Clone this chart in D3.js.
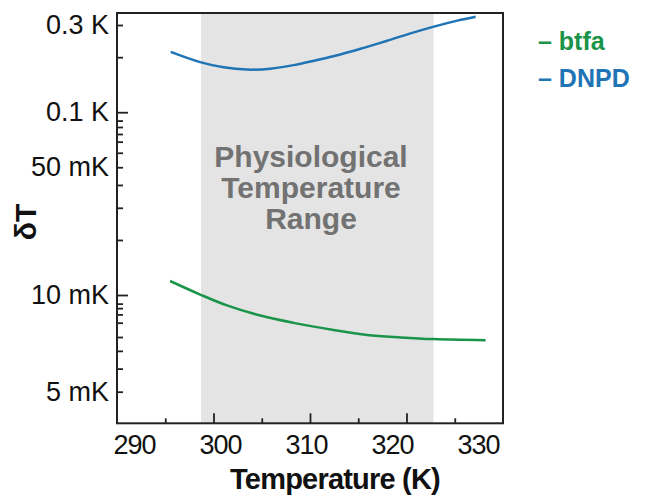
<!DOCTYPE html>
<html><head><meta charset="utf-8">
<script src="https://cdn.jsdelivr.net/npm/d3@7"></script>
<style>body{margin:0;background:#fff}svg{display:block}text{font-family:"Liberation Sans",Arial,sans-serif}</style>
</head><body><svg id="c" width="645" height="497"></svg>
<script>
// ---- data ----
const dnpdT = [295.57, 298.62, 301.04, 303.46, 305.88, 308.30, 310.73, 313.15, 315.57, 318.0, 320.42, 322.84, 325.27, 327.17];
const dnpdV = [0.214, 0.188, 0.176, 0.171, 0.173, 0.181, 0.193, 0.207, 0.225, 0.246, 0.270, 0.294, 0.317, 0.333];
const btfaT = [295.5, 298.62, 301.39, 304.85, 308.30, 312.45, 315.92, 319.38, 322.84, 328.2];
const btfaV = [0.01193, 0.01006, 0.00928, 0.00863, 0.00819, 0.00778, 0.00751, 0.00738, 0.00729, 0.00723];
const physRange = [298.7, 322.8];
const xMajor = [290, 300, 310, 320, 330];
const xMinor = [295, 305, 315, 325];
const yDecade = [0.1, 0.01];
const yDecadeLabels = ["0.1 K", "10 mK"];
const yOther = [0.3, 0.05, 0.005];
const yOtherLabels = ["0.3 K", "50 mK", "5 mK"];
const yMinor = [0.2, 0.09, 0.083, 0.076, 0.069, 0.06, 0.04, 0.03, 0.02, 0.0094, 0.0091, 0.0087, 0.0082, 0.0074, 0.0067, 0.0059];
const seriesNames = ["btfa", "DNPD"];
const colors = {btfa: "#1a9448", DNPD: "#1f74b6"};
const bandText = ["Physiological", "Temperature", "Range"];

const svg = d3.select("#c");
const L = 117, R = 503, T = 13, B = 423.3;
const x = d3.scaleLinear().domain([290, 330]).range([L, R]);
const xLab = d3.scaleLinear().domain([290, 330]).range([134, 478]);
const y = d3.scaleLog().domain([0.3488, 0.3, 0.01, 0.005, 0.00399]).range([T, 25, 295, 391.7, B]);

// band
svg.append("rect").attr("x", x(physRange[0])).attr("y", T)
  .attr("width", x(physRange[1]) - x(physRange[0])).attr("height", B - T).attr("fill", "#e4e4e4");

const bt = svg.append("text").attr("x", 311).attr("text-anchor", "middle")
  .attr("font-weight", "bold").attr("font-size", 30).attr("fill", "#727272");
bandText.forEach((t, i) => bt.append("tspan").attr("x", 311).attr("y", 167 + i * 31).text(t));

// lines
const line = d3.line().x(d => x(d[0])).y(d => y(d[1])).curve(d3.curveCatmullRom);
svg.append("path").datum(btfaT.map((t, i) => [t, btfaV[i]])).attr("d", line)
  .attr("fill", "none").attr("stroke", colors.btfa).attr("stroke-width", 2.5);
svg.append("path").datum(dnpdT.map((t, i) => [t, dnpdV[i]])).attr("d", line)
  .attr("fill", "none").attr("stroke", colors.DNPD).attr("stroke-width", 2.5);

// axes
function styleAx(g) {
  g.select(".domain").remove();
  g.selectAll("line").attr("stroke", "#222").attr("stroke-width", 1.8);
  g.selectAll("text").attr("font-family", '"Liberation Sans",Arial,sans-serif').attr("fill", "#111");
}
const gx = svg.append("g").attr("transform", `translate(0,${B})`)
  .call(d3.axisBottom(x).tickValues(xMajor).tickSize(-10).tickPadding(11.5).tickFormat(d3.format("d")));
styleAx(gx);
gx.selectAll("text").attr("font-size", 27).attr("letter-spacing", -1).attr("x", d => xLab(d) - x(d));
gx.selectAll(".tick").filter(d => d === 290 || d === 330).select("line").remove();
const gxm = svg.append("g").attr("transform", `translate(0,${B})`)
  .call(d3.axisBottom(x).tickValues(xMinor).tickSize(-5).tickFormat(""));
styleAx(gxm);

const gy1 = svg.append("g").attr("transform", `translate(${L},0)`)
  .call(d3.axisLeft(y).tickValues(yDecade).tickSize(-11).tickPadding(8).tickFormat((d, i) => yDecadeLabels[i]));
styleAx(gy1);
const gy2 = svg.append("g").attr("transform", `translate(${L},0)`)
  .call(d3.axisLeft(y).tickValues(yOther).tickSize(-6).tickPadding(8).tickFormat((d, i) => yOtherLabels[i]));
styleAx(gy2);
[gy1, gy2].forEach(g => g.selectAll("text").attr("font-size", 27));
const gym = svg.append("g").attr("transform", `translate(${L},0)`)
  .call(d3.axisLeft(y).tickValues(yMinor).tickSize(-6).tickFormat(""));
styleAx(gym);

// frame
svg.append("rect").attr("x", L).attr("y", T).attr("width", R - L).attr("height", B - T)
  .attr("fill", "none").attr("stroke", "#222").attr("stroke-width", 2);

// titles
svg.append("text").attr("x", 335).attr("y", 489).attr("text-anchor", "middle")
  .attr("font-weight", "bold").attr("font-size", 29).attr("letter-spacing", -0.8).attr("fill", "#111")
  .text("Temperature (K)");
svg.append("text").attr("transform", "translate(36,222) rotate(-90)").attr("text-anchor", "middle")
  .attr("font-weight", "bold").attr("font-size", 30).attr("fill", "#111").text("δT");

// legend
seriesNames.forEach((n, i) => {
  svg.append("text").attr("x", 538).attr("y", 50 + i * 37).attr("font-weight", "bold")
    .attr("font-size", 25).attr("fill", colors[n]).text("– " + n);
});
</script></body></html>
